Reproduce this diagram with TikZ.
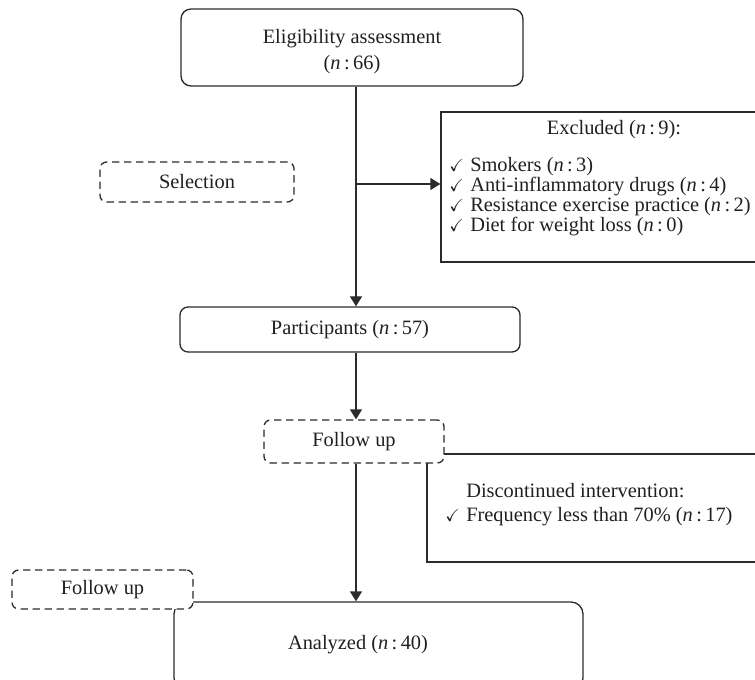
\documentclass[tikz,border=0pt]{standalone}
\usepackage{amssymb}
\usepackage{graphicx}
\usepackage{fontspec}
\setmainfont{Liberation Serif}
\usetikzlibrary{arrows.meta}
\definecolor{ln}{HTML}{2B2B2B}
\definecolor{tx}{HTML}{231F20}
\newcommand{\ck}{\makebox[15.75pt][l]{\scalebox{0.85}{$\checkmark$}}}
\newcommand{\nn}[1]{(\textit{n}\,:\,#1)}
\begin{document}
\begin{tikzpicture}[x=0.75pt,y=-0.75pt,
  every node/.style={text=tx, font=\fontsize{15.3pt}{19.5pt}\selectfont},
  solidbox/.style={draw=ln, line width=1pt, fill=white, rounded corners=7pt, inner sep=0pt},
  dashbox/.style={draw=ln, line width=1pt, dash pattern=on 5.5pt off 3.5pt, rounded corners=5pt, fill=white, inner sep=0pt},
  plainbox/.style={draw=ln, line width=1pt, fill=white, inner sep=0pt},
  conn/.style={draw=ln, line width=1pt},
  arr/.style={conn, -{Triangle[length=7.5pt,width=9pt]}},
  txt/.style={inner sep=0pt, align=left}]
\useasboundingbox (0,0) rectangle (755,680);
\clip (0,0) rectangle (755,680);

% boxes
\node[solidbox, rounded corners=7.5pt, minimum width=256.5pt, minimum height=57.75pt] (elig) at (352,47.5) {};
\node[txt, align=center] (eligt) at (352,52) {Eligibility assessment\\ \nn{66}};
\node[dashbox, minimum width=145.5pt, minimum height=30pt] (sel) at (197,182) {Selection};
\node[plainbox, minimum width=239.25pt, minimum height=112.5pt] (excl) at (600.5,187) {};
\node[txt] (exclt) at (614,130) {Excluded \nn{9}:};
\node[txt, anchor=west, font=\fontsize{15.3pt}{15pt}\selectfont] (excli) at (449,197) {\ck Smokers \nn{3}\\ \ck Anti-inflammatory drugs \nn{4}\\ \ck Resistance exercise practice \nn{2}\\ \ck Diet for weight loss \nn{0}};
\node[solidbox, rounded corners=6pt, minimum width=255pt, minimum height=33.75pt] (part) at (350,329.5) {Participants \nn{57}};
\node[plainbox, minimum width=249.75pt, minimum height=81pt] (disc) at (593.5,508) {};
\node[txt, anchor=west, font=\fontsize{15.3pt}{18pt}\selectfont] (disct) at (445,505) {\phantom{\ck}Discontinued intervention:\\ \ck Frequency less than 70\% \nn{17}};
\node[dashbox, minimum width=135pt, minimum height=32.25pt] (fu1) at (354,441.5) {Follow up};
\node[solidbox, rounded corners=9pt, minimum width=306.75pt, minimum height=66pt] (anal) at (378.5,646) {};
\node (analt) at (358,645) {Analyzed \nn{40}};
\node[dashbox, minimum width=135.75pt, minimum height=29.25pt] (fu2) at (102.5,589.5) {Follow up};

% connectors
\coordinate (ax) at (356,0);
\coordinate (j1) at (356,184);
\draw[arr] (ax |- elig.south) -- (ax |- part.north);
\draw[arr] (j1) -- (j1 -| excl.west);
\draw[arr] (ax |- part.south) -- (ax |- fu1.north);
\draw[arr] (ax |- fu1.south) -- (ax |- anal.north);
\end{tikzpicture}
\end{document}
